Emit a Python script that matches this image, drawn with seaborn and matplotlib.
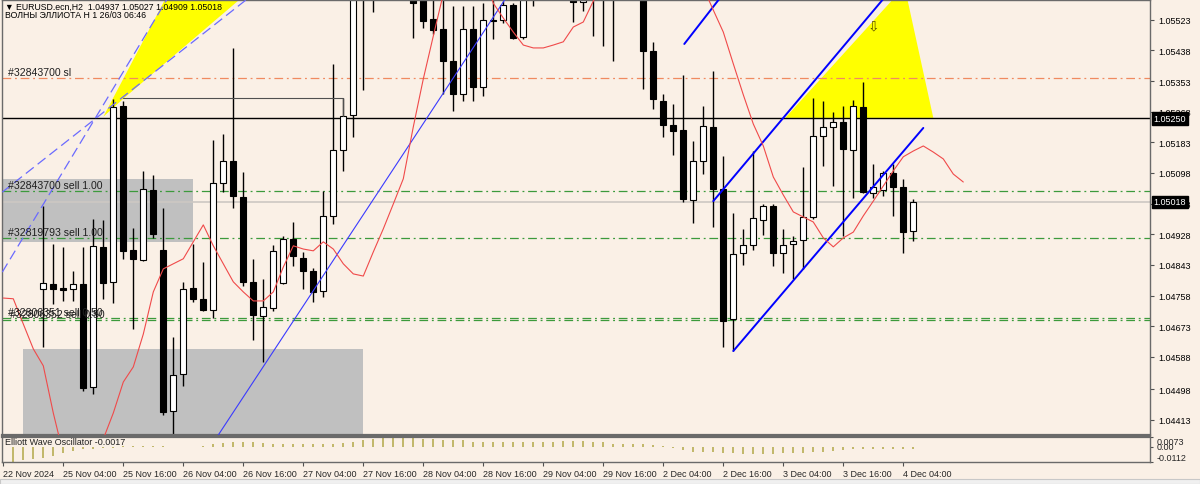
import numpy as np
import pandas as pd
import matplotlib
matplotlib.use("Agg")
import matplotlib.pyplot as plt
import matplotlib.transforms as mtransforms
from matplotlib.patches import Rectangle, Polygon
import seaborn as sns

sns.set_theme(style="white")
plt.rcParams['font.family'] = ['Liberation Sans', 'DejaVu Sans']

# ---------------- data ----------------
bar_index = list(range(4, 92))
opens = [1.04776, 1.04790, 1.04779, 1.04776, 1.04790, 1.04504, 1.04893, 1.04796, 1.05284, 1.04884,
         1.04857, 1.05051, 1.04884, 1.04438, 1.04540, 1.04779, 1.04749, 1.04718, 1.05070, 1.05131,
         1.05032, 1.04796, 1.04701, 1.04724, 1.04793, 1.04915, 1.04862, 1.04826, 1.04771, 1.04979,
         1.05162, 1.05259, 1.05640, 1.05600, 1.05650, 1.05700, 1.05680, 1.05620, 1.05595, 1.05526,
         1.05498, 1.05409, 1.05317, 1.05498, 1.05337, 1.05523, 1.05523, 1.05564, 1.05476, 1.05640,
         1.05660, 1.05700, 1.05680, 1.05610, 1.05572, 1.05620, 1.05650, 1.05610, 1.05640, 1.05700,
         1.05640, 1.05437, 1.05298, 1.05231, 1.05217, 1.05023, 1.05131, 1.05226, 1.05054, 1.04693,
         1.04876, 1.04898, 1.04968, 1.05007, 1.04876, 1.04901, 1.04912, 1.04976, 1.05201, 1.05226,
         1.05240, 1.05162, 1.05281, 1.05043, 1.05051, 1.05098, 1.05059, 1.04937]
highs = [1.05007, 1.04901, 1.04893, 1.04826, 1.04893, 1.04971, 1.04968, 1.05303, 1.05298, 1.04946,
         1.05104, 1.05093, 1.05001, 1.04643, 1.04796, 1.04901, 1.04851, 1.05190, 1.05206, 1.05445,
         1.05101, 1.04860, 1.04804, 1.04898, 1.04923, 1.04962, 1.04879, 1.04835, 1.05048, 1.05401,
         1.05306, 1.05660, 1.05720, 1.05690, 1.05740, 1.05760, 1.05710, 1.05650, 1.05620, 1.05600,
         1.05590, 1.05562, 1.05562, 1.05562, 1.05570, 1.05600, 1.05575, 1.05570, 1.05650, 1.05700,
         1.05730, 1.05750, 1.05700, 1.05630, 1.05590, 1.05680, 1.05680, 1.05670, 1.05720, 1.05730,
         1.05660, 1.05462, 1.05317, 1.05290, 1.05370, 1.05187, 1.05284, 1.05381, 1.05145, 1.04987,
         1.04943, 1.05159, 1.05012, 1.05012, 1.04943, 1.04923, 1.05115, 1.05306, 1.05298, 1.05267,
         1.05284, 1.05301, 1.05351, 1.05123, 1.05104, 1.05123, 1.05082, 1.05027]
lows = [1.04615, 1.04735, 1.04743, 1.04743, 1.04493, 1.04485, 1.04749, 1.04737, 1.04860, 1.04665,
        1.04854, 1.04918, 1.04427, 1.04374, 1.04507, 1.04740, 1.04715, 1.04696, 1.05045, 1.05001,
        1.04785, 1.04635, 1.04574, 1.04715, 1.04790, 1.04840, 1.04776, 1.04740, 1.04754, 1.04957,
        1.05104, 1.05198, 1.05328, 1.05545, 1.05610, 1.05640, 1.05590, 1.05473, 1.05501, 1.05484,
        1.05317, 1.05270, 1.05298, 1.05298, 1.05312, 1.05470, 1.05514, 1.05470, 1.05470, 1.05562,
        1.05620, 1.05640, 1.05600, 1.05517, 1.05548, 1.05478, 1.05451, 1.05409, 1.05600, 1.05600,
        1.05331, 1.05276, 1.05198, 1.05148, 1.05018, 1.04959, 1.05095, 1.04948, 1.04615, 1.04604,
        1.04843, 1.04884, 1.04926, 1.04840, 1.04821, 1.04804, 1.04832, 1.04971, 1.05118, 1.05062,
        1.04923, 1.05029, 1.05043, 1.05029, 1.05034, 1.04979, 1.04876, 1.04909]
closes = [1.04793, 1.04776, 1.04773, 1.04790, 1.04502, 1.04896, 1.04793, 1.05281, 1.04882, 1.04860,
          1.05054, 1.04929, 1.04435, 1.04538, 1.04776, 1.04749, 1.04718, 1.05070, 1.05131, 1.05034,
          1.04796, 1.04704, 1.04726, 1.04882, 1.04915, 1.04868, 1.04826, 1.04768, 1.04979, 1.05162,
          1.05256, 1.05640, 1.05600, 1.05650, 1.05700, 1.05680, 1.05620, 1.05570, 1.05520, 1.05495,
          1.05409, 1.05317, 1.05498, 1.05337, 1.05523, 1.05520, 1.05564, 1.05473, 1.05620, 1.05660,
          1.05700, 1.05680, 1.05620, 1.05573, 1.05577, 1.05650, 1.05610, 1.05640, 1.05700, 1.05640,
          1.05437, 1.05304, 1.05231, 1.05215, 1.05026, 1.05131, 1.05229, 1.05054, 1.04687, 1.04873,
          1.04898, 1.04973, 1.05007, 1.04876, 1.04898, 1.04909, 1.04976, 1.05201, 1.05226, 1.05240,
          1.05165, 1.05284, 1.05045, 1.05059, 1.05098, 1.05059, 1.04934, 1.05018]

ma_index = list(range(0, 97))
ma_values = [1.04751, 1.04749, 1.04679, 1.04610, 1.04563, 1.04432, 1.04318, 1.04277, 1.04277, 1.04318,
             1.04360, 1.04432, 1.04518, 1.04560, 1.04651, 1.04768, 1.04832, 1.04846, 1.04860, 1.04907,
             1.04954, 1.04896, 1.04846, 1.04796, 1.04768, 1.04743, 1.04743, 1.04768, 1.04837, 1.04896,
             1.04887, 1.04882, 1.04907, 1.04887, 1.04846, 1.04818, 1.04812, 1.04879, 1.04943, 1.05012,
             1.05082, 1.05226, 1.05359, 1.05478, 1.05595, 1.05680, 1.05720, 1.05720, 1.05660, 1.05569,
             1.05528, 1.05489, 1.05453, 1.05445, 1.05445, 1.05453, 1.05462, 1.05503, 1.05517, 1.05575,
             1.05630, 1.05660, 1.05680, 1.05690, 1.05700, 1.05710, 1.05710, 1.05700, 1.05680, 1.05650,
             1.05612, 1.05550, 1.05489, 1.05401, 1.05315, 1.05234, 1.05173, 1.05087, 1.05037, 1.04990,
             1.04976, 1.04962, 1.04918, 1.04893, 1.04918, 1.04934, 1.04979, 1.05020, 1.05062, 1.05104,
             1.05143, 1.05159, 1.05173, 1.05156, 1.05137, 1.05095, 1.05073]

ewo_index = list(range(1, 92))
ewo_values = [-0.0112, -0.0096, -0.0089, -0.0081, -0.0067, -0.0044, -0.0030, -0.0019, -0.0015, -0.0011,
              -0.0005, 0.0003, 0.0003, 0.0004, 0.0004, 0.0003, 0.0002, 0.0001, 0.0002, 0.0004,
              0.0021, 0.0029, 0.0034, 0.0034, 0.0034, 0.0029, 0.0021, 0.0019, 0.0019, 0.0019,
              0.0019, 0.0021, 0.0021, 0.0026, 0.0039, 0.0051, 0.0058, 0.0063, 0.0068, 0.0073,
              0.0068, 0.0058, 0.0058, 0.0051, 0.0051, 0.0051, 0.0039, 0.0034, 0.0034, 0.0039,
              0.0034, 0.0034, 0.0039, 0.0039, 0.0034, 0.0044, 0.0044, 0.0044, 0.0039, 0.0034,
              0.0021, 0.0021, 0.0021, 0.0019, 0.0014, 0.0007, -0.0011, -0.0023, -0.0035, -0.0035,
              -0.0040, -0.0043, -0.0048, -0.0053, -0.0053, -0.0053, -0.0053, -0.0048, -0.0048, -0.0043,
              -0.0040, -0.0035, -0.0030, -0.0023, -0.0018, -0.0018, -0.0015, -0.0015, -0.0015, -0.0015,
              -0.0017]

price_ticks = [1.05523, 1.05438, 1.05353, 1.05268, 1.05183, 1.05098, 1.05013, 1.04928, 1.04843,
               1.04758, 1.04673, 1.04588, 1.04498, 1.04413]
time_tick_index = [0, 6, 12, 18, 24, 30, 36, 42, 48, 54, 60, 66, 72, 78, 84, 90]
time_tick_labels = ["22 Nov 2024", "25 Nov 04:00", "25 Nov 16:00", "26 Nov 04:00", "26 Nov 16:00",
                    "27 Nov 04:00", "27 Nov 16:00", "28 Nov 04:00", "28 Nov 16:00", "29 Nov 04:00",
                    "29 Nov 16:00", "2 Dec 04:00", "2 Dec 16:00", "3 Dec 04:00", "3 Dec 16:00",
                    "4 Dec 04:00"]
ewo_ticks = [0.0073, 0.0, -0.0112]
ewo_tick_labels = ["0.0073", "0.00", "-0.0112"]

# horizontal levels
level_sl = 1.05362
level_black = 1.05250
level_bid = 1.05018
level_sell1 = 1.05048
level_sell2 = 1.04918
level_sell3a = 1.04696
level_sell3b = 1.04690

# drawn objects (bar index, price)
thin_line_idx = [21.5, 50.2]; thin_line_px = [1.04371, 1.05581]
short_line_idx = [68.1, 71.6]; short_line_px = [1.05456, 1.05581]
chan_up_idx = [71.0, 88.0]; chan_up_px = [1.05020, 1.05581]
chan_lo_idx = [73.0, 92.0]; chan_lo_px = [1.04604, 1.05223]
dash1_idx = [-0.1, 16.4]; dash1_px = [1.04823, 1.05581]
dash2_idx = [-0.1, 24.4]; dash2_px = [1.05045, 1.05581]
bracket_idx = [12.0, 34.0, 34.0]; bracket_px = [1.05306, 1.05306, 1.05256]
tri_left_idx = [10.0, 16.2, 23.7, 12.0]; tri_left_px = [1.05254, 1.05581, 1.05581, 1.05304]
tri_right_idx = [78.2, 89.0, 90.4, 93.0]; tri_right_px = [1.05251, 1.05581, 1.05581, 1.05251]
rect1_idx = [-0.2, 19.0]; rect1_px = [1.04907, 1.05082]
rect2_idx = [2.0, 36.0]; rect2_px = [1.04300, 1.04610]

# ---------------- layout ----------------
W, H = 1200, 485
BG = "#faf0e6"
fig = plt.figure(figsize=(W / 100, H / 100), dpi=100, facecolor=BG)


def px_rect(l, t, r, b):
    return [l / W, 1 - b / H, (r - l) / W, (b - t) / H]


ax = fig.add_axes(px_rect(2, 1, 1150, 436))
osc = fig.add_axes(px_rect(2, 438, 1150, 463))
for a in (ax, osc):
    a.set_facecolor(BG)
    for s in a.spines.values():
        s.set_color("#6a6a6a")
        s.set_linewidth(1.0)
ax.spines["bottom"].set_linewidth(1.6)
osc.spines["top"].set_linewidth(1.6)

xlim = (-0.13, 114.67)
ax.set_xlim(*xlim)
ax.set_ylim(1.04371, 1.05578)
osc.set_xlim(*xlim)
osc.set_ylim(-0.0113, 0.0074)

FS = 6.5

# background rectangles
for (xi, yp) in ((rect1_idx, rect1_px), (rect2_idx, rect2_px)):
    ax.add_patch(Rectangle((xi[0], yp[0]), xi[1] - xi[0], yp[1] - yp[0],
                           facecolor="#c0c0c0", edgecolor="none", zorder=0.5))
# yellow triangles
for (xi, yp) in ((tri_left_idx, tri_left_px), (tri_right_idx, tri_right_px)):
    ax.add_patch(Polygon(list(zip(xi, yp)), closed=True, facecolor="#ffff00",
                         edgecolor="none", zorder=0.6))

# horizontal levels
ax.axhline(level_bid, color="#cdc8c3", lw=1.2, zorder=0.8)
ax.axhline(level_black, color="black", lw=1.0, zorder=1.0)
ax.axhline(level_sl, color="#f08a60", lw=0.9, ls=(0, (7, 3, 1.5, 3)), zorder=1.0)
for lv in (level_sell1, level_sell2, level_sell3a, level_sell3b):
    ax.axhline(lv, color="#3c9a3c", lw=0.9, ls=(0, (7, 3, 1.5, 3)), zorder=1.0)

# candles
df = pd.DataFrame({"i": bar_index, "o": opens, "h": highs, "l": lows, "c": closes})
ax.vlines(df["i"], df["l"], df["h"], color="black", lw=1.0, zorder=2)
bull = df["c"] >= df["o"]
body_lo = np.minimum(df["o"], df["c"])
body_h = np.maximum(np.abs(df["c"] - df["o"]), 0.000015)
ax.bar(df["i"][bull], body_h[bull], bottom=body_lo[bull], width=0.62,
       facecolor="white", edgecolor="black", linewidth=0.8, zorder=2.5)
ax.bar(df["i"][~bull], body_h[~bull], bottom=body_lo[~bull], width=0.62,
       facecolor="black", edgecolor="black", linewidth=0.8, zorder=2.5)

# drawn lines
ax.plot(thin_line_idx, thin_line_px, color="#3a3aff", lw=0.8, zorder=3)
ax.plot(short_line_idx, short_line_px, color="#0000ff", lw=1.4, zorder=3)
ax.plot(chan_up_idx, chan_up_px, color="#0000ff", lw=1.4, zorder=3)
ax.plot(chan_lo_idx, chan_lo_px, color="#0000ff", lw=1.4, zorder=3)
ax.plot(dash1_idx, dash1_px, color="#6a6aff", lw=0.9, ls=(0, (8, 4)), zorder=3)
ax.plot(dash2_idx, dash2_px, color="#6a6aff", lw=0.9, ls=(0, (8, 4)), zorder=3)
ax.plot(bracket_idx, bracket_px, color="#505050", lw=0.8, zorder=3)

# moving average
sns.lineplot(x=ma_index, y=ma_values, ax=ax, color="#f04a4a", lw=0.8, zorder=4,
             legend=False, sort=False)

# arrow
ax.text(87.0, 1.05506, "⇩", fontsize=10, color="#5a5000", ha="center", va="center",
        zorder=5, family=["DejaVu Sans"])

# order labels
lab_kw = dict(fontsize=7.6, color="#202020", ha="left", va="bottom", zorder=6)
xl = 0.5
ax.text(xl, level_sl + 0.00003, "#32843700 sl", **lab_kw)
ax.text(xl, level_sell1 + 0.00003, "#32843700 sell 1.00", **lab_kw)
ax.text(xl, level_sell2 + 0.00003, "#32819793 sell 1.00", **lab_kw)
ax.text(xl, level_sell3a + 0.00003, "#32806351 sell 0.50", **lab_kw)
ax.text(xl + 0.15, level_sell3b + 0.00004, "#32806352 sell 0.50", **lab_kw)

# price axis
ax.yaxis.tick_right()
ax.set_yticks(price_ticks)
ax.set_yticklabels([f"{v:.5f}" for v in price_ticks])
ax.tick_params(axis="y", which="both", right=True, length=3, width=0.8, color="#505050",
               labelsize=FS, pad=3, labelcolor="black")
ax.tick_params(axis="x", bottom=False, labelbottom=False)
ax.set_xlabel(""); ax.set_ylabel("")

trans = mtransforms.blended_transform_factory(ax.transAxes, ax.transData)
for v in (level_black, level_bid):
    ax.text(1.003, v, f"{v:.5f}", transform=trans, fontsize=FS, color="white",
            ha="left", va="center", zorder=10, clip_on=False,
            bbox=dict(boxstyle="square,pad=0.2", fc="black", ec="black"))

# oscillator
ecol = "#c2b86c"
osc.bar(ewo_index, ewo_values, width=0.22, color=ecol, edgecolor="none", zorder=2)
osc.yaxis.tick_right()
osc.set_yticks(ewo_ticks)
osc.set_yticklabels(ewo_tick_labels)
osc.tick_params(axis="y", right=True, length=2, width=0.8, color="#505050",
                labelsize=FS, pad=3)
labs = osc.get_yticklabels()
labs[0].set_va("top"); labs[1].set_va("center"); labs[2].set_va("bottom")
osc.set_xticks(time_tick_index)
osc.set_xticklabels(time_tick_labels, ha="left")
osc.tick_params(axis="x", bottom=True, length=3, width=0.8, color="#505050",
                labelsize=FS, pad=2)
osc.set_xlabel(""); osc.set_ylabel("")
osc.text(0.003, 0.82, "Elliott Wave Oscillator -0.0017", transform=osc.transAxes,
         fontsize=FS, color="#202020", ha="left", va="center")

# header
fig.text(5 / W, 1 - 7 / H, "▼ EURUSD.ecn,H2  1.04937 1.05027 1.04909 1.05018",
         fontsize=6.3, color="black", ha="left", va="center")
fig.text(5 / W, 1 - 16 / H, "ВОЛНЫ ЭЛЛИОТА H 1 26/03 06:46",
         fontsize=6.3, color="black", ha="left", va="center")

# bottom tab strip
fig.patches.append(Rectangle((0, 0), 1, 5 / H, transform=fig.transFigure,
                             facecolor="#f0f0f0", edgecolor="#c8c8c8", lw=0.8))

fig.savefig("out.png", dpi=100, facecolor=BG)
